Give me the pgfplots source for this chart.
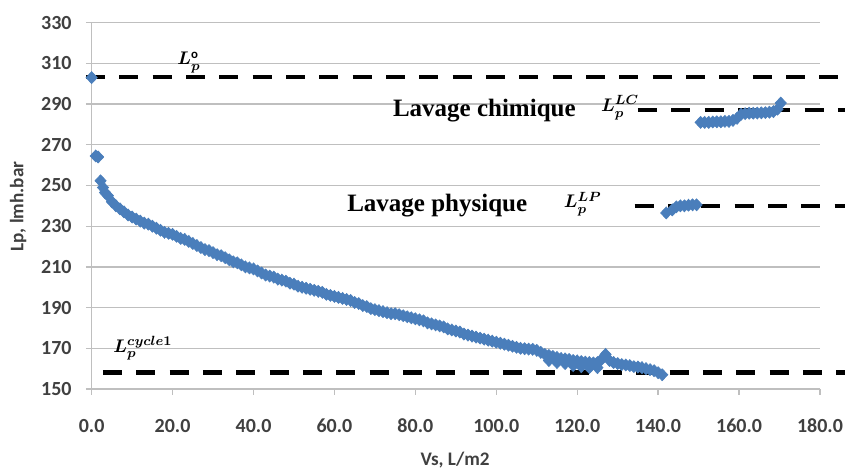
\documentclass[border=0pt]{standalone}
\usepackage{fontspec}
\setmainfont{Carlito}
\newfontfamily\tnr{Liberation Serif}
\usepackage{pgfplots}
\pgfplotsset{compat=1.18}
\definecolor{ptblue}{HTML}{4A7EBB}
\definecolor{gridgray}{HTML}{BFBFBF}
\definecolor{txtgray}{HTML}{404040}
\begin{document}
\begin{tikzpicture}
\begin{axis}[
  scale only axis,
  width=437pt, height=219.8pt,
  xmin=0, xmax=180, ymin=150, ymax=330,
  xtick={0,20,...,180}, ytick={150,170,...,330},
  axis x line*=bottom, axis y line*=left,
  axis line style={draw=gridgray, line width=0.8pt},
  tick style={draw=gridgray, line width=0.8pt},
  tick align=outside, major tick length=3.5pt,
  ymajorgrids, major grid style={draw=gridgray, line width=0.8pt},
  clip=false,
  /pgf/number format/assume math mode=true,
  ticklabel style={font=\bfseries\fontsize{12}{14}\selectfont, text=txtgray},
  xticklabel style={/pgf/number format/fixed, /pgf/number format/fixed zerofill, /pgf/number format/precision=1, yshift=-11pt},
  yticklabel style={xshift=-5pt},
  xlabel={Vs, L/m2}, ylabel={Lp, lmh.bar},
  xlabel style={at={(axis description cs:0.499,-0.194)}, anchor=center, font=\bfseries\fontsize{11.5}{13}\selectfont, text=txtgray},
  ylabel style={at={(axis description cs:-0.101,0.498)}, anchor=center, font=\bfseries\fontsize{11.5}{13}\selectfont, text=txtgray},
]
% dashed reference lines
\addplot[black, line width=2.6pt, dash pattern=on 11.4pt off 8.6pt] coordinates {(-1.4,303.2) (186.2,303.2)};
\addplot[black, line width=2.6pt, dash pattern=on 11.4pt off 8.6pt] coordinates {(135,287.2) (186.2,287.2)};
\addplot[black, line width=2.6pt, dash pattern=on 11.4pt off 8.6pt] coordinates {(134.2,239.8) (186.2,239.8)};
\addplot[black, line width=2.6pt, dash pattern=on 11.4pt off 8.6pt] coordinates {(2.8,158.1) (186.2,158.1)};
% data
\addplot[only marks, mark=diamond*, mark size=3.6pt, mark options={xscale=1.25, fill=ptblue, draw=ptblue}] table {
x y
0 303
1.0 264.5
1.6 264
2.2 252.3
2.8 249
3.3 246.5
4 245
5 242
6 240
7 238.5
8 237
9 235.5
10 234.5
11 233.5
12 232.5
13 231.5
14 231
15 230
16 229
17 228
18 227
19 226.5
20 226
21 225
22 224
23 223.5
24 222.5
25 221.5
26 220.5
27 219.5
28 218.5
29 218
30 217
31 216
32 215.5
33 214.5
34 213.5
35 212.5
36 212
37 211
38 210
39 209.5
40 209
41 208
42 207
43 206
44 205.5
45 205
46 204
47 203.5
48 203
49 202
50 201.5
51 200.5
52 200
53 199.5
54 199
55 198.5
56 198
57 197.5
58 196.5
59 196
60 195.5
61 195
62 194.5
63 194
64 193.5
65 192.5
66 192
67 191
68 190.5
69 189.5
70 189
71 188.5
72 188
73 187.5
74 187
75 187
76 186.5
77 186
78 185.5
79 185
80 184.5
81 184
82 183.5
83 182.5
84 182
85 181.5
86 181
87 180.5
88 179.5
89 179
90 178.5
91 178
92 177
93 176.5
94 176
95 175.5
96 175
97 174.5
98 174
99 173.5
100 173
101 172.5
102 172
103 171.5
104 171
105 170.5
106 170
107 169.8
108 169.6
109 169.5
110 169
111 168
112 167
113 166.5
114 166
115 165.5
116 165
117 164.8
118 164.5
119 164
120 163.8
121 163.5
122 163.2
123 163
124 162.8
125 163
126 164.5
127 167
128 164
129 163
130 162.5
131 162
132 161.8
133 161.5
134 161
135 160.8
136 160.5
137 160
138 159.5
139 159
140 158
141 157
113 164
115 163
117 162.5
119 161.5
121 161
123 160.5
125 160.5
142 236.5
143.5 238
144.5 239.5
145.5 240
146.5 240
147.5 240.3
148.5 240.5
149.5 240.5
150.5 281
151.5 281
152.5 281
153.5 281.2
154.5 281.3
155.5 281.3
156.5 281.5
157.5 281.5
158.5 282
159.5 283
160.5 285
161.5 285.3
162.5 285.5
163.5 285.5
164.5 285.6
165.5 285.7
166.5 285.8
167.5 286
168.5 286.3
169.5 287.5
170.3 290.5
};
% annotations
\node[anchor=base west, inner sep=0pt, font=\boldmath\fontsize{11}{12}\selectfont] at (axis cs:21.1,309.3) {$L_p^{\mathrm{o}}$};
\node[anchor=base west, inner sep=0pt, font=\boldmath\fontsize{11}{12}\selectfont] at (axis cs:5.3,168.1) {$L_p^{cycle1}$};
\node[anchor=base west, inner sep=0pt, font=\boldmath\fontsize{11}{12}\selectfont] at (axis cs:125.8,286.4) {$L_p^{LC}$};
\node[anchor=base west, inner sep=0pt, font=\boldmath\fontsize{11}{12}\selectfont] at (axis cs:116.6,239) {$L_p^{LP}$};
\node[anchor=base west, inner sep=0pt, font=\tnr\bfseries\fontsize{15}{18}\selectfont] at (axis cs:74.4,284) {Lavage chimique};
\node[anchor=base west, inner sep=0pt, font=\tnr\bfseries\fontsize{15}{18}\selectfont] at (axis cs:63.1,237) {Lavage physique};
\end{axis}
\pgfresetboundingbox
\path[use as bounding box] (-55pt,-48pt) rectangle (452pt,233.4pt);
\end{tikzpicture}
\end{document}
